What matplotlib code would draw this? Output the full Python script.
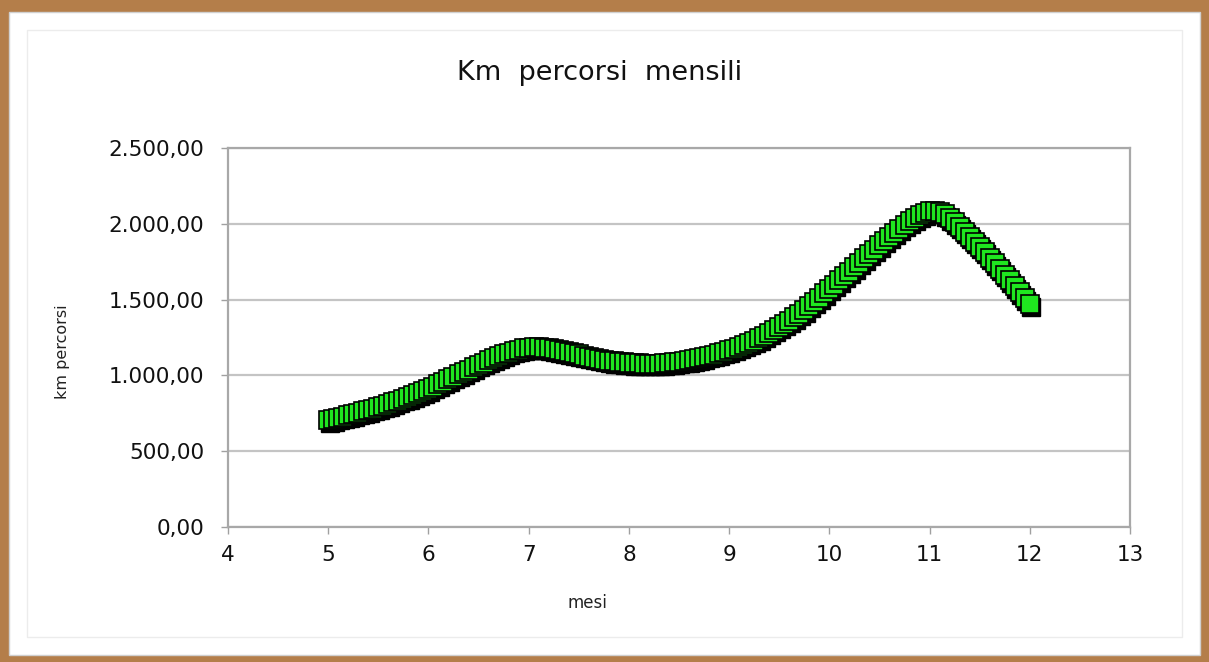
import numpy as np
import matplotlib
matplotlib.use("Agg")
import matplotlib.pyplot as plt
from matplotlib.ticker import FuncFormatter
from matplotlib.patches import Rectangle
from matplotlib.transforms import ScaledTranslation

# ---- data (km every 0.05 month, from month 5 to 12) ----
month_start = 5.0
month_end = 12.0
km = [
    705, 712, 720, 728, 736, 745, 753, 762, 771, 780, 790, 800, 811, 822, 833, 845, 857, 870, 883, 896,
    910, 925, 941, 957, 973, 990, 1006, 1022, 1038, 1054, 1070, 1085, 1100, 1114, 1127, 1140, 1151, 1161, 1170, 1178,
    1183, 1186, 1186, 1184, 1180, 1174, 1167, 1160, 1153, 1146, 1139, 1131, 1124, 1117, 1110, 1104, 1098, 1093, 1089, 1086,
    1083, 1081, 1079, 1078, 1077, 1077, 1078, 1080, 1083, 1086, 1090, 1095, 1100, 1106, 1113, 1120, 1128, 1136, 1145, 1155,
    1165, 1176, 1188, 1201, 1215, 1230, 1246, 1263, 1281, 1300, 1320, 1341, 1362, 1384, 1407, 1431, 1458, 1485, 1513, 1541,
    1570, 1598, 1627, 1656, 1685, 1714, 1743, 1772, 1801, 1830, 1859, 1887, 1915, 1942, 1968, 1993, 2016, 2037, 2055, 2071,
    2082, 2086, 2078, 2062, 2038, 2010, 1980, 1948, 1916, 1883, 1850, 1814, 1777, 1740, 1703, 1665, 1626, 1587, 1547, 1508,
    1468,
]
months = np.linspace(month_start, month_end, len(km))

x_ticks = [4, 5, 6, 7, 8, 9, 10, 11, 12, 13]
y_ticks = [0, 500, 1000, 1500, 2000, 2500]

title = "Km  percorsi  mensili"
x_label = "mesi"
y_label = "km percorsi"

# ---- figure ----
W, H = 1209, 662
fig = plt.figure(figsize=(W / 100, H / 100), dpi=100)
fig.patch.set_facecolor("#b47e4a")

# white chart panel over the wooden background
fig.add_artist(Rectangle((9 / W, 1 - 655 / H), (1200 - 9) / W, (655 - 12) / H,
                         transform=fig.transFigure, facecolor="white",
                         edgecolor="#d0d0d0", linewidth=1.0, zorder=0))
fig.add_artist(Rectangle((27 / W, 1 - 637 / H), (1182 - 27) / W, (637 - 30) / H,
                         transform=fig.transFigure, facecolor="none",
                         edgecolor="#ececec", linewidth=1.0, zorder=0))

ax = fig.add_axes([228 / W, 1 - 527 / H, (1130 - 228) / W, (527 - 148) / H])
ax.set_facecolor("white")

# dark drop shadow of the marker chain
shadow = ax.transData + ScaledTranslation(1.0 / 72, -1.8 / 72, fig.dpi_scale_trans)
ax.plot(months, km, linestyle="none", marker="s", markersize=13,
        markerfacecolor="black", markeredgecolor="black", markeredgewidth=1.0,
        transform=shadow, zorder=2)

ax.plot(months, km, linestyle="-", color="black", linewidth=1,
        marker="s", markersize=13, markerfacecolor="#1fe61f",
        markeredgecolor="black", markeredgewidth=1.2, zorder=3)

ax.set_xlim(4, 13)
ax.set_ylim(0, 2500)
ax.set_xticks(x_ticks)
ax.set_yticks(y_ticks)

def fmt_it(v, pos):
    s = f"{v:,.2f}"
    return s.replace(",", "X").replace(".", ",").replace("X", ".")

ax.yaxis.set_major_formatter(FuncFormatter(fmt_it))
ax.grid(axis="y", color="#c4c4c4", linewidth=1.6, zorder=1)
ax.set_axisbelow(True)

for sp in ax.spines.values():
    sp.set_color("#a8a8a8")
    sp.set_linewidth(1.6)

ax.tick_params(axis="both", direction="out", length=5, width=1, color="#a0a0a0",
               labelsize=15.5, labelcolor="#111111")
ax.tick_params(axis="y", pad=12)
ax.tick_params(axis="x", pad=8)

fig.text(600 / W, 1 - 73 / H, title, ha="center", va="center", fontsize=19.5,
         color="#111111")
fig.text(587 / W, 1 - 603 / H, x_label, ha="center", va="center", fontsize=12,
         color="#222222")
fig.text(62 / W, 1 - 352 / H, y_label, ha="center", va="center", fontsize=11.5,
         rotation=90, color="#222222")

fig.savefig("out.png", dpi=100, facecolor=fig.get_facecolor())
